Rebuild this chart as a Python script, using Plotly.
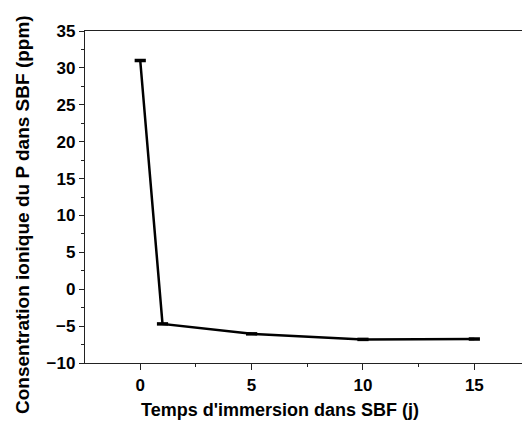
import plotly.graph_objects as go

days = [0, 1, 5, 10, 15]
p_conc = [31.0, -4.7, -6.05, -6.8, -6.75]
x_ticks = [0, 5, 10, 15]
y_ticks = [-10, -5, 0, 5, 10, 15, 20, 25, 30, 35]
x_title = "Temps d'immersion dans SBF (j)"
y_title = "Consentration ionique du P dans SBF (ppm)"

font_family = "Liberation Sans, Arial, sans-serif"

fig = go.Figure()
fig.add_trace(go.Scatter(
    x=days, y=p_conc, mode="lines+markers",
    line=dict(color="black", width=2.5),
    marker=dict(symbol="line-ew", size=8, line=dict(color="black", width=3.5)),
    showlegend=False,
))

axis_common = dict(
    showgrid=False, zeroline=False, showline=True, linecolor="#222", linewidth=1.3,
    ticks="outside", tickcolor="#222", tickwidth=1.3,
    tickfont=dict(family=font_family, size=17, color="black", weight="bold"),
)
fig.update_layout(
    width=522, height=426,
    margin=dict(l=85, r=0, t=31, b=63),
    paper_bgcolor="white", plot_bgcolor="white",
    xaxis=dict(
        range=[-2.48, 17.14], tickvals=x_ticks, ticklen=6, mirror=True,
        minor=dict(dtick=2.5, tick0=0, ticks="outside", ticklen=3, tickcolor="#222", tickwidth=1.3),
        **axis_common,
    ),
    yaxis=dict(
        range=[-10, 35], tickvals=y_ticks, ticklen=5,
        minor=dict(dtick=2.5, tick0=0, ticks="outside", ticklen=3, tickcolor="#222", tickwidth=1.3),
        **axis_common,
    ),
    annotations=[
        dict(text=x_title, xref="paper", yref="paper",
             x=(279.5 - 85) / 437, y=-(410 - 363) / 332,
             xanchor="center", yanchor="middle", showarrow=False,
             font=dict(family=font_family, size=18, color="black", weight="bold")),
        dict(text=y_title, xref="paper", yref="paper",
             x=-(85 - 22) / 437, y=(363 - 215) / 332, textangle=-90,
             xanchor="center", yanchor="middle", showarrow=False,
             font=dict(family=font_family, size=19, color="black", weight="bold")),
    ],
)
fig.write_html("out.html")
